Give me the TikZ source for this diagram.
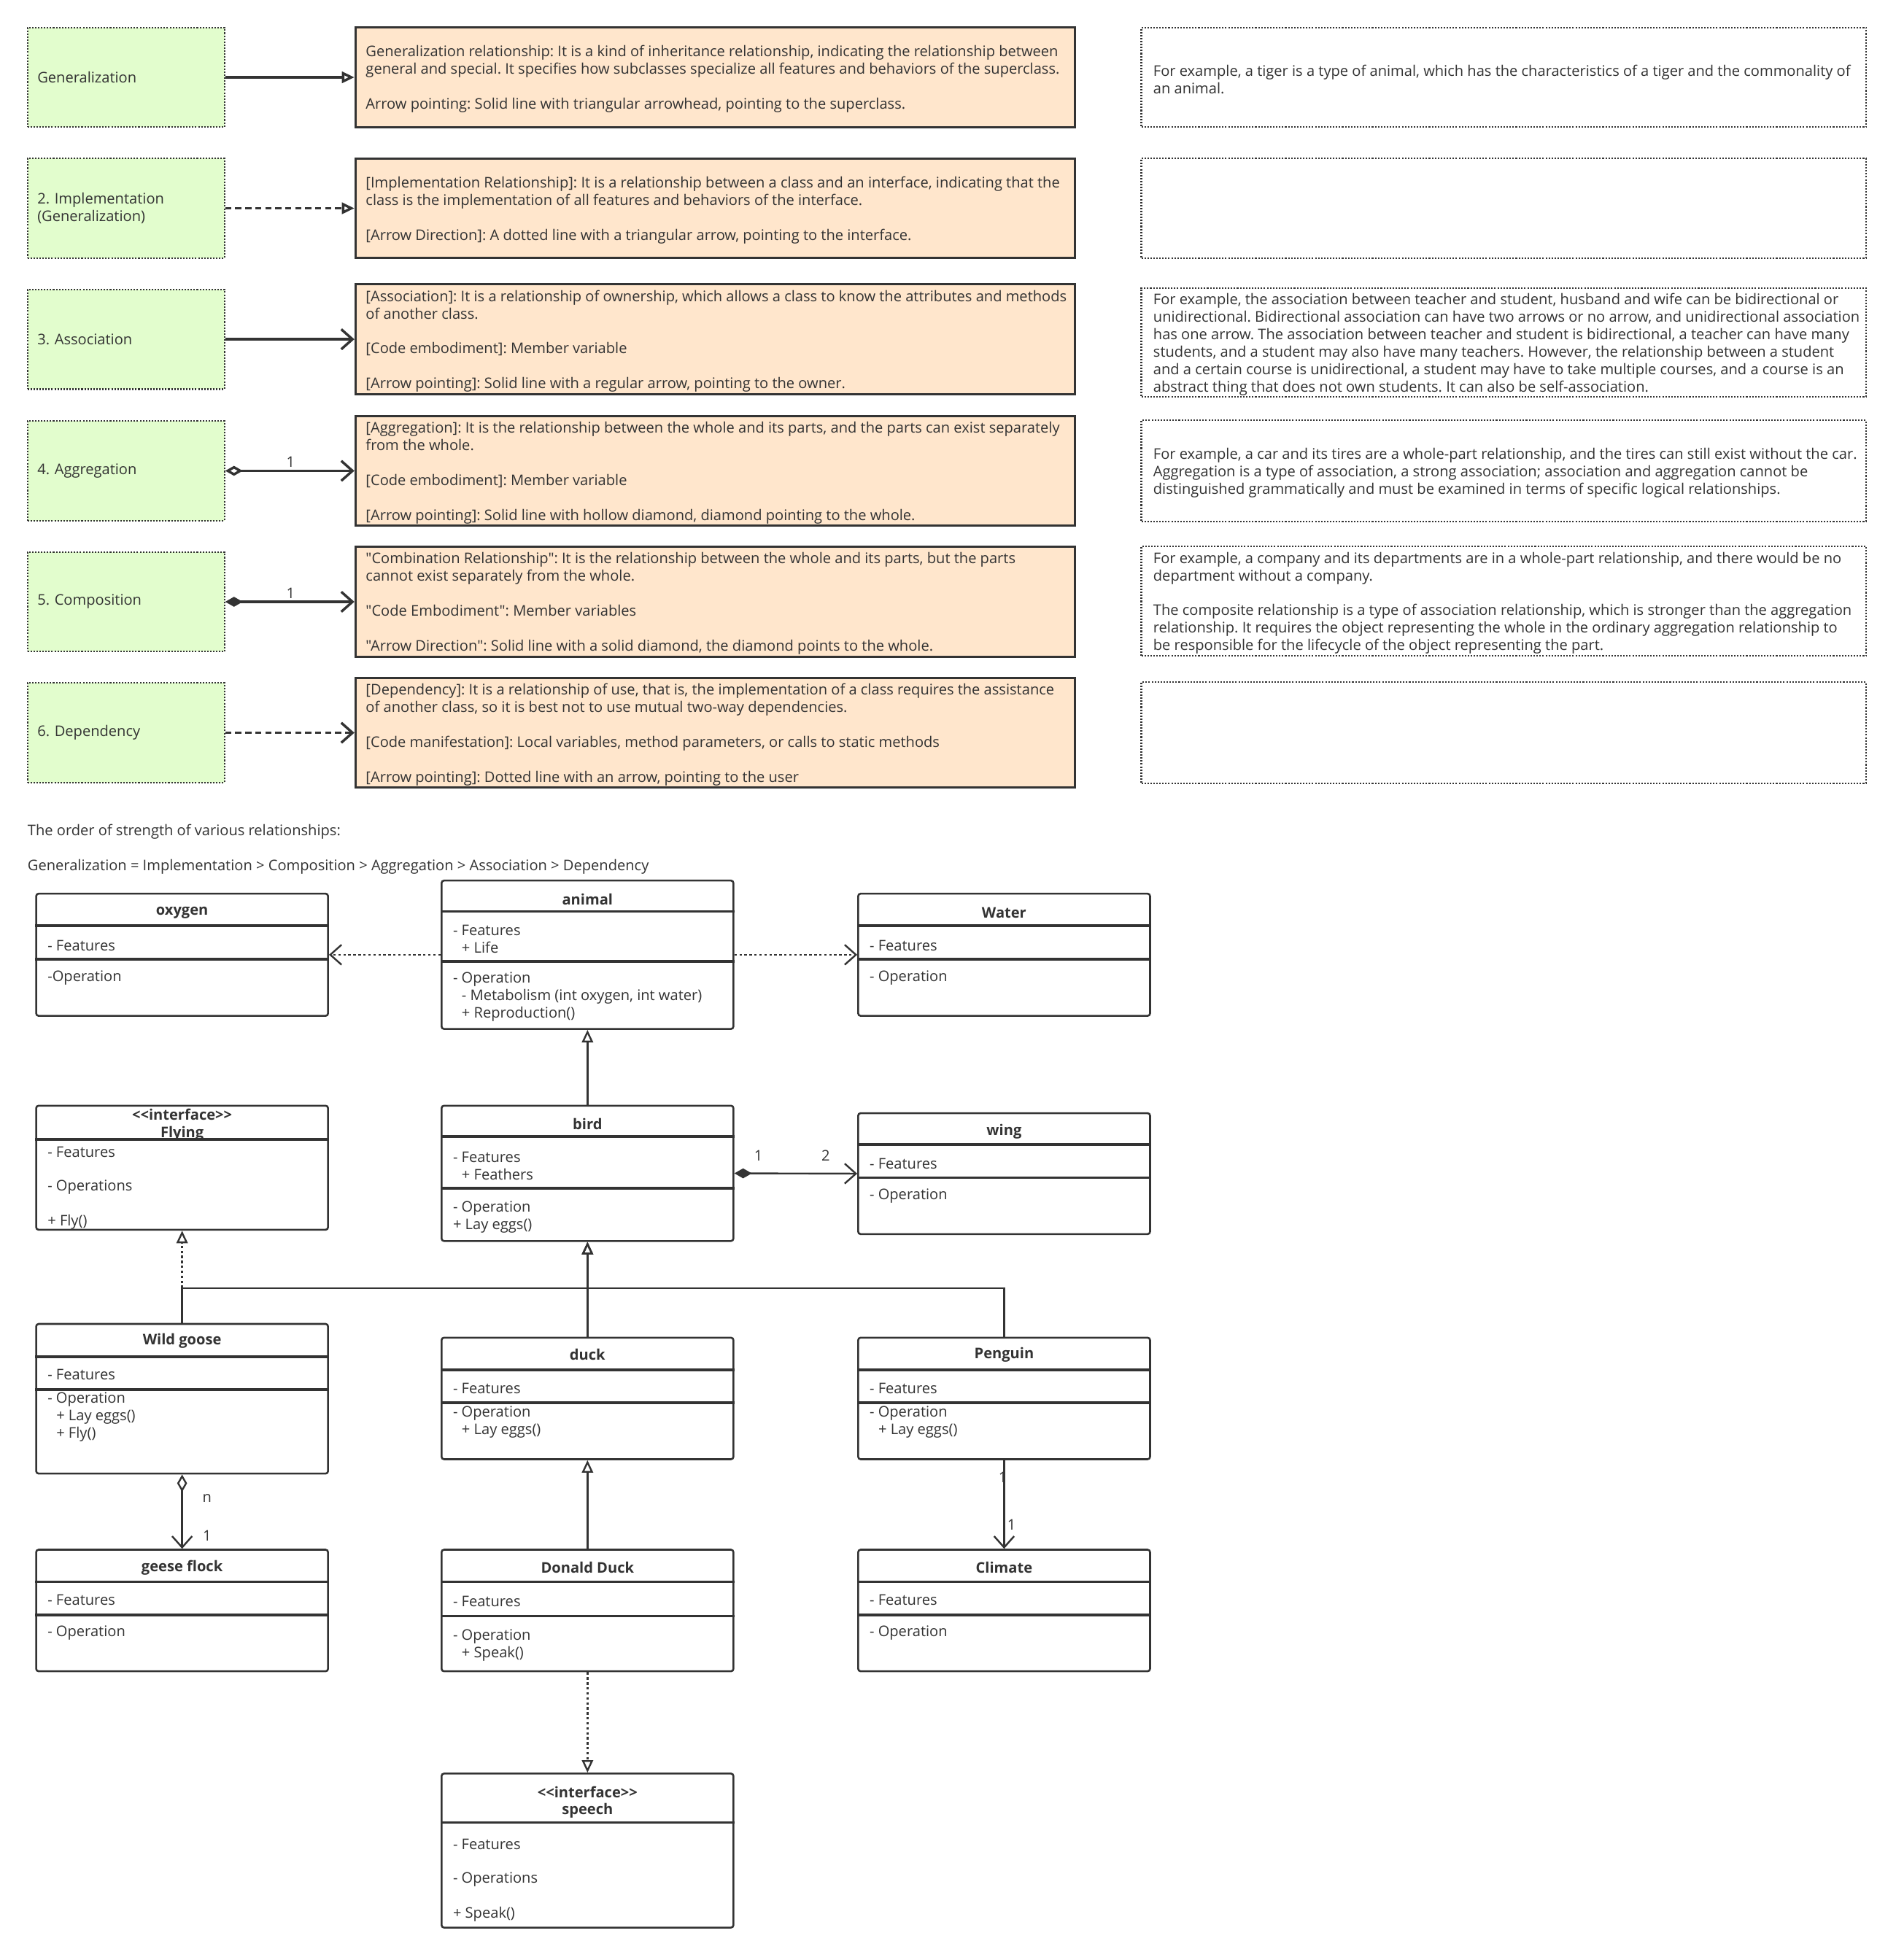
\documentclass[tikz,border=0pt]{standalone}
\usepackage{fontspec}
\newfontfamily\uifont{Open Sans}
\usetikzlibrary{arrows.meta,positioning}
\definecolor{ink}{HTML}{333333}
\definecolor{leaf}{HTML}{E2FDCD}
\definecolor{peach}{HTML}{FFE6CC}
\newcommand{\txtsize}{\uifont\fontsize{11.75}{14}\selectfont\frenchspacing}
\tikzset{
	kind/.style={draw=ink,line width=1.2pt,dash pattern=on 1.2pt off 1.2pt,fill=leaf,text=ink,font=\txtsize,text width=142pt,inner xsep=8pt,align=left,minimum height=80pt},
	peachbox/.style={draw=ink,line width=1.8pt,fill=peach,minimum width=577pt,minimum height=#1},
	notebox/.style={draw=ink,line width=1.2pt,dash pattern=on 1.2pt off 1.2pt,minimum width=581pt,minimum height=#1},
	txt/.style={align=left,inner sep=0pt,text=ink,font=\txtsize,yshift=-1.5pt},
	cls/.style={draw=ink,line width=1.5pt,rounded corners=2pt,fill=white,minimum width=234pt,minimum height=#1,inner sep=0pt},
	cbar/.style={ink,line width=2.2pt},
	clstitle/.style={align=center,inner sep=0pt,text=ink,font=\txtsize\bfseries,yshift=-2pt},
	item/.style={align=left,anchor=west,inner sep=0pt,text=ink,font=\txtsize,yshift=-2pt},
	mult/.style={inner sep=0pt,text=ink,font=\txtsize,yshift=-1.5pt},
	bigline/.style={ink,line width=2pt},
	umlline/.style={ink,line width=1.4pt},
	dots/.style={dash pattern=on 2pt off 2pt},
	gen/.style={-{Triangle[open,length=10pt,width=9pt]}},
	barb/.style={-{Straight Barb[length=9pt,width=16pt]}},
	agg/.style={{Diamond[open,length=14pt,width=8pt]}-{Straight Barb[length=9pt,width=16pt]}},
	comp/.style={{Diamond[length=14pt,width=8pt]}-{Straight Barb[length=9pt,width=16pt]}}
}

\begin{document}
\begin{tikzpicture}[x=1pt,y=-1pt]
\useasboundingbox (0,0) rectangle (1520,1571.5);
\fill[white] (0,0) rectangle (1520,1571.5);

% relationship kinds
\node[kind] (k1) at (101,62) {Generalization};
\node[kind] (k2) at (101,167) {2. Implementation\\(Generalization)};
\node[kind] (k3) at (101,272) {3. Association};
\node[kind] (k4) at (101,377.5) {4. Aggregation};
\node[kind] (k5) at (101,482.5) {5. Composition};
\node[kind] (k6) at (101,587.5) {6. Dependency};

% descriptions
\node[peachbox=80pt] (d1) at (573.5,62) {};
\node[peachbox=80pt] (d2) at (573.5,167) {};
\node[peachbox=88pt] (d3) at (573.5,272) {};
\node[peachbox=88pt] (d4) at (573.5,377.5) {};
\node[peachbox=88pt] (d5) at (573.5,482.5) {};
\node[peachbox=88pt] (d6) at (573.5,587.5) {};

\node[txt,right=9pt of d1.west] (d1-text) {Generalization relationship: It is a kind of inheritance relationship, indicating the relationship between\\general and special. It specifies how subclasses specialize all features and behaviors of the superclass.\\[14pt]Arrow pointing: Solid line with triangular arrowhead, pointing to the superclass.};
\node[txt,right=9pt of d2.west] (d2-text) {[Implementation Relationship]: It is a relationship between a class and an interface, indicating that the\\class is the implementation of all features and behaviors of the interface.\\[14pt][Arrow Direction]: A dotted line with a triangular arrow, pointing to the interface.};
\node[txt,right=9pt of d3.west] (d3-text) {[Association]: It is a relationship of ownership, which allows a class to know the attributes and methods\\of another class.\\[14pt][Code embodiment]: Member variable\\[14pt][Arrow pointing]: Solid line with a regular arrow, pointing to the owner.};
\node[txt,right=9pt of d4.west] (d4-text) {[Aggregation]: It is the relationship between the whole and its parts, and the parts can exist separately\\from the whole.\\[14pt][Code embodiment]: Member variable\\[14pt][Arrow pointing]: Solid line with hollow diamond, diamond pointing to the whole.};
\node[txt,right=9pt of d5.west] (d5-text) {"Combination Relationship": It is the relationship between the whole and its parts, but the parts\\cannot exist separately from the whole.\\[14pt]"Code Embodiment": Member variables\\[14pt]"Arrow Direction": Solid line with a solid diamond, the diamond points to the whole.};
\node[txt,right=9pt of d6.west] (d6-text) {[Dependency]: It is a relationship of use, that is, the implementation of a class requires the assistance\\of another class, so it is best not to use mutual two-way dependencies.\\[14pt][Code manifestation]: Local variables, method parameters, or calls to static methods\\[14pt][Arrow pointing]: Dotted line with an arrow, pointing to the user};

% examples
\node[notebox=80pt] (e1) at (1205.5,62) {};
\node[notebox=80pt] (e2) at (1205.5,167) {};
\node[notebox=87pt] (e3) at (1205.5,274.5) {};
\node[notebox=81pt] (e4) at (1205.5,377.5) {};
\node[notebox=88pt] (e5) at (1205.5,482) {};
\node[notebox=81pt] (e6) at (1205.5,587.5) {};

\node[txt,right=10pt of e1.west] (e1-text) {For example, a tiger is a type of animal, which has the characteristics of a tiger and the commonality of\\an animal.};
\node[txt,right=10pt of e3.west] (e3-text) {For example, the association between teacher and student, husband and wife can be bidirectional or\\unidirectional. Bidirectional association can have two arrows or no arrow, and unidirectional association\\has one arrow. The association between teacher and student is bidirectional, a teacher can have many\\students, and a student may also have many teachers. However, the relationship between a student\\and a certain course is unidirectional, a student may have to take multiple courses, and a course is an\\abstract thing that does not own students. It can also be self-association.};
\node[txt,right=10pt of e4.west] (e4-text) {For example, a car and its tires are a whole-part relationship, and the tires can still exist without the car.\\Aggregation is a type of association, a strong association; association and aggregation cannot be\\distinguished grammatically and must be examined in terms of specific logical relationships.};
\node[txt,right=10pt of e5.west] (e5-text) {For example, a company and its departments are in a whole-part relationship, and there would be no\\department without a company.\\[14pt]The composite relationship is a type of association relationship, which is stronger than the aggregation\\relationship. It requires the object representing the whole in the ordinary aggregation relationship to\\be responsible for the lifecycle of the object representing the part.};

% legend arrows
\draw[bigline,gen] (k1) -- (d1);
\draw[bigline,gen,dash pattern=on 5pt off 3pt] (k2) -- (d2);
\draw[bigline,barb] (k3) -- (d3);
\draw[bigline,agg] (k4) -- (d4);
\draw[bigline,comp] (k5) -- (d5);
\draw[bigline,barb,dash pattern=on 5pt off 3pt] (k6) -- (d6);
\node[mult] (m4) at (233,369) {1};
\node[mult] (m5) at (233,474) {1};

\node[item] (order) at (22,665) {The order of strength of various relationships:};
\node[item] (ranking) at (22,693) {Generalization = Implementation > Composition > Aggregation > Association > Dependency};

% classes
\node[cls=98pt] (oxygen) at (146,765.5) {};
\draw[cbar] ([yshift=-26.5pt]oxygen.north west) -- ([yshift=-26.5pt]oxygen.north east);
\draw[cbar] ([yshift=-53.5pt]oxygen.north west) -- ([yshift=-53.5pt]oxygen.north east);
\node[clstitle] (oxygen-name) at (146,730) {oxygen};
\node[item] (oxygen-feat) at (38,756) {- Features};
\node[item] (oxygen-op) at (38,782) {-Operation};

\node[cls=119pt] (animal) at (471,765.5) {};
\draw[cbar] ([yshift=-25.5pt]animal.north west) -- ([yshift=-25.5pt]animal.north east);
\draw[cbar] ([yshift=-65.5pt]animal.north west) -- ([yshift=-65.5pt]animal.north east);
\node[clstitle] (animal-name) at (471,719) {animal};
\node[item] (animal-feat) at (363,751) {- Features\\\hspace*{7pt}+ Life};
\node[item] (animal-op) at (363,797) {- Operation\\\hspace*{7pt}- Metabolism (int oxygen, int water)\\\hspace*{7pt}+ Reproduction()};

\node[cls=98pt] (water) at (805,765.5) {};
\draw[cbar] ([yshift=-26.5pt]water.north west) -- ([yshift=-26.5pt]water.north east);
\draw[cbar] ([yshift=-53.5pt]water.north west) -- ([yshift=-53.5pt]water.north east);
\node[clstitle] (water-name) at (805,730) {Water};
\node[item] (water-feat) at (697,756) {- Features};
\node[item] (water-op) at (697,782) {- Operation};

\node[cls=99.5pt] (flying) at (146,936.25) {};
\draw[cbar] ([yshift=-28pt]flying.north west) -- ([yshift=-28pt]flying.north east);
\node[clstitle] (flying-name) at (146,900) {<<interface>>\\Flying};
\node[item] (flying-feat) at (38,922) {- Features};
\node[item] (flying-op) at (38,950) {- Operations};
\node[item] (flying-fly) at (38,978) {+ Fly()};

\node[cls=108.5pt] (bird) at (471,940.75) {};
\draw[cbar] ([yshift=-25.5pt]bird.north west) -- ([yshift=-25.5pt]bird.north east);
\draw[cbar] ([yshift=-67pt]bird.north west) -- ([yshift=-67pt]bird.north east);
\node[clstitle] (bird-name) at (471,899) {bird};
\node[item] (bird-feat) at (363,933) {- Features\\\hspace*{7pt}+ Feathers};
\node[item] (bird-op) at (363,974) {- Operation\\+ Lay eggs()};

\node[cls=97pt] (wing) at (805,941) {};
\draw[cbar] ([yshift=-26pt]wing.north west) -- ([yshift=-26pt]wing.north east);
\draw[cbar] ([yshift=-52.5pt]wing.north west) -- ([yshift=-52.5pt]wing.north east);
\node[clstitle] (wing-name) at (805,905) {wing};
\node[item] (wing-feat) at (697,931) {- Features};
\node[item] (wing-op) at (697,957) {- Operation};

\node[cls=120pt] (goose) at (146,1121.5) {};
\draw[cbar] ([yshift=-27pt]goose.north west) -- ([yshift=-27pt]goose.north east);
\draw[cbar] ([yshift=-53.5pt]goose.north west) -- ([yshift=-53.5pt]goose.north east);
\node[clstitle] (goose-name) at (146,1073) {Wild goose};
\node[item] (goose-feat) at (38,1100) {- Features};
\node[item] (goose-op) at (38,1134) {- Operation\\\hspace*{7pt}+ Lay eggs()\\\hspace*{7pt}+ Fly()};

\node[cls=97.5pt] (duck) at (471,1121.25) {};
\draw[cbar] ([yshift=-26.5pt]duck.north west) -- ([yshift=-26.5pt]duck.north east);
\draw[cbar] ([yshift=-53pt]duck.north west) -- ([yshift=-53pt]duck.north east);
\node[clstitle] (duck-name) at (471,1084) {duck};
\node[item] (duck-feat) at (363,1111) {- Features};
\node[item] (duck-op) at (363,1138) {- Operation\\\hspace*{7pt}+ Lay eggs()};

\node[cls=97.5pt] (penguin) at (805,1121.25) {};
\draw[cbar] ([yshift=-26.5pt]penguin.north west) -- ([yshift=-26.5pt]penguin.north east);
\draw[cbar] ([yshift=-53pt]penguin.north west) -- ([yshift=-53pt]penguin.north east);
\node[clstitle] (penguin-name) at (805,1084) {Penguin};
\node[item] (penguin-feat) at (697,1111) {- Features};
\node[item] (penguin-op) at (697,1138) {- Operation\\\hspace*{7pt}+ Lay eggs()};

\node[cls=97.5pt] (flock) at (146,1291.25) {};
\draw[cbar] ([yshift=-26.5pt]flock.north west) -- ([yshift=-26.5pt]flock.north east);
\draw[cbar] ([yshift=-53pt]flock.north west) -- ([yshift=-53pt]flock.north east);
\node[clstitle] (flock-name) at (146,1255) {geese flock};
\node[item] (flock-feat) at (38,1281) {- Features};
\node[item] (flock-op) at (38,1307) {- Operation};

\node[cls=97.5pt] (donald) at (471,1291.25) {};
\draw[cbar] ([yshift=-26.5pt]donald.north west) -- ([yshift=-26.5pt]donald.north east);
\draw[cbar] ([yshift=-54pt]donald.north west) -- ([yshift=-54pt]donald.north east);
\node[clstitle] (donald-name) at (471,1255) {Donald Duck};
\node[item] (donald-feat) at (363,1282) {- Features};
\node[item] (donald-op) at (363,1317) {- Operation\\\hspace*{7pt}+ Speak()};

\node[cls=97.5pt] (climate) at (805,1291.25) {};
\draw[cbar] ([yshift=-26.5pt]climate.north west) -- ([yshift=-26.5pt]climate.north east);
\draw[cbar] ([yshift=-53pt]climate.north west) -- ([yshift=-53pt]climate.north east);
\node[clstitle] (climate-name) at (805,1255) {Climate};
\node[item] (climate-feat) at (697,1281) {- Features};
\node[item] (climate-op) at (697,1307) {- Operation};

\node[cls=123.5pt] (speech) at (471,1483.75) {};
\draw[cbar] ([yshift=-40pt]speech.north west) -- ([yshift=-40pt]speech.north east);
\node[clstitle] (speech-name) at (471,1443) {<<interface>>\\speech};
\node[item] (speech-feat) at (363,1477) {- Features};
\node[item] (speech-op) at (363,1505) {- Operations};
\node[item] (speech-speak) at (363,1533) {+ Speak()};

% relations
\coordinate (hub) at (471,1033);
\draw[umlline,barb,dots] (animal.west) -- (oxygen.east);
\draw[umlline,barb,dots] (animal.east) -- (water.west);
\draw[umlline,gen] (bird) -- (animal);
\draw[umlline,comp] (bird.east) -- (wing.west);
\node[mult] (m-bird) at (608,925) {1};
\node[mult] (m-wing) at (662,925) {2};
\draw[umlline,gen,dots] (goose) -- (flying);
\draw[umlline,gen] (goose.north) |- (hub) -- (bird.south);
\draw[umlline,gen] (penguin.north) |- (hub) -- (bird.south);
\draw[umlline,gen] (duck) -- (bird);
\draw[umlline,agg] (goose) -- (flock);
\node[mult] (m-goose) at (166,1200) {n};
\node[mult] (m-flock) at (166,1230) {1};
\draw[umlline,barb] (penguin) -- (climate);
\node[mult] (m-penguin) at (804,1183) {1};
\node[mult] (m-climate) at (811,1221) {1};
\draw[umlline,gen] (donald) -- (duck);
\draw[umlline,gen,dots] (donald) -- (speech);
\end{tikzpicture}
\end{document}
